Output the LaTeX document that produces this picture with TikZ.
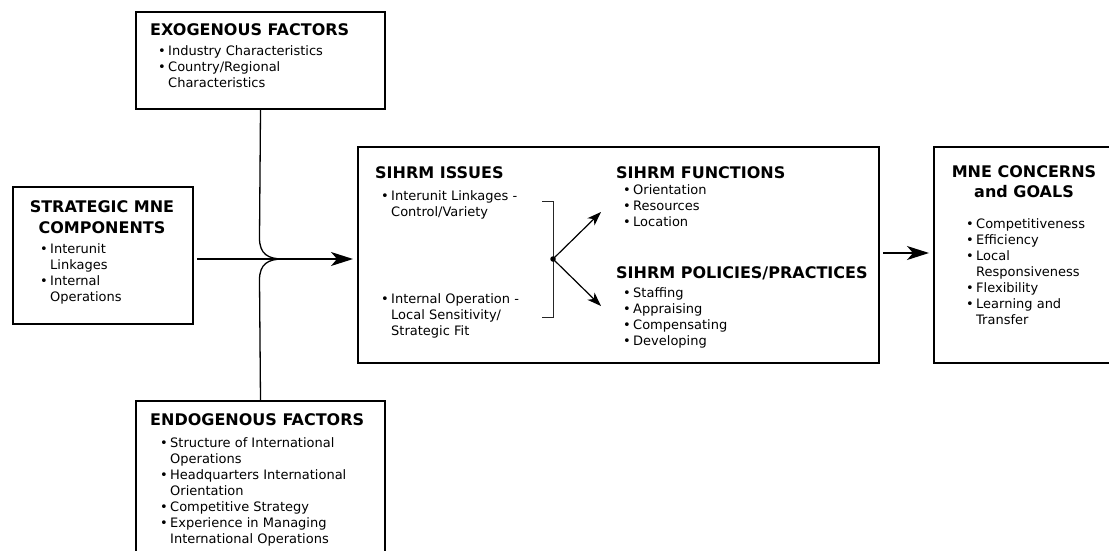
\documentclass[tikz,border=0pt]{standalone}
\usepackage{fontspec}
\setmainfont{DejaVu Sans}
\usetikzlibrary{arrows.meta}
\newcommand\bl{\makebox[10pt][l]{•}}
\newcommand\cn{\hspace*{10pt}}
\tikzset{
  box/.style={draw, line width=2pt, inner sep=0pt, anchor=north west},
  ttl/.style={font=\fontsize{16}{20}\selectfont\bfseries, inner sep=0pt, align=left, anchor=base west},
  ctl/.style={font=\fontsize{16}{20.5}\selectfont\bfseries, inner sep=0pt, align=center, anchor=base},
  itm/.style={font=\fontsize{13}{16}\selectfont, inner sep=0pt, align=left, anchor=base west},
  conn/.style={line width=1.3pt},
  bigarr/.style={line width=1.3pt, -{Stealth[length=22pt,width=14pt,inset=6pt]}},
  smarr/.style={line width=1.2pt, -{Stealth[length=14pt,width=10pt,inset=4pt]}},
  brk/.style={line width=1pt, draw=black!85}
}
\begin{document}
\begin{tikzpicture}[x=1pt,y=-1pt]
\useasboundingbox (0,0) rectangle (1109,550);
\clip (0,0) rectangle (1109,550);
% boxes
\node[box, minimum width=249pt, minimum height=97pt] (exo) at (135,11) {};
\node[box, minimum width=180pt, minimum height=137pt] (strat) at (12,186) {};
\node[box, minimum width=521pt, minimum height=216pt] (center) at (357,146) {};
\node[box, minimum width=200pt, minimum height=216pt] (mne) at (933,146) {};
\node[box, minimum width=249pt, minimum height=180pt] (endo) at (135,400) {};
% exogenous (multi-line nodes are placed by the baseline of their last line)
\node[ttl] (exot) at (150,35) {EXOGENOUS FACTORS};
\node[itm] (exoi) at (158,87) {\bl Industry Characteristics\\\bl Country/Regional\\\cn Characteristics};
% strategic
\node[ctl] (stratt) at (102,233) {STRATEGIC MNE\\COMPONENTS};
\node[itm] (strati) at (40,301) {\bl Interunit\\\cn Linkages\\\bl Internal\\\cn Operations};
% center
\node[ttl] (isst) at (375,178) {SIHRM ISSUES};
\node[itm] (issa) at (381,216) {\bl Interunit Linkages -\\\cn Control/Variety};
\node[itm] (issb) at (381,335) {\bl Internal Operation -\\\cn Local Sensitivity/\\\cn Strategic Fit};
\node[ttl] (funt) at (616,178) {SIHRM FUNCTIONS};
\node[itm] (funi) at (623,226.5) {\bl Orientation\\\bl Resources\\\bl Location};
\node[ttl] (polt) at (616,278) {SIHRM POLICIES/PRACTICES};
\node[itm] (poli) at (623,345) {\bl Staffing\\\bl Appraising\\\bl Compensating\\\bl Developing};
% mne
\node[ctl] (mnet) at (1024,197.5) {MNE CONCERNS\\and GOALS};
\node[itm] (mnei) at (966,324) {\bl Competitiveness\\\bl Efficiency\\\bl Local\\\cn Responsiveness\\\bl Flexibility\\\bl Learning and\\\cn Transfer};
% endogenous
\node[ttl] (endot) at (150,425) {ENDOGENOUS FACTORS};
\node[itm] (endoi) at (160,543) {\bl Structure of International\\\cn Operations\\\bl Headquarters International\\\cn Orientation\\\bl Competitive Strategy\\\bl Experience in Managing\\\cn International Operations};
% junction connectors
\coordinate (J) at (283,259);
\coordinate (s0) at (197,259);
\draw[conn] (exo.south) -- (259.5,238) .. controls (259.5,254) and (268,259) .. (J);
\draw[conn] (J) .. controls (268,259) and (259.5,264) .. (259.5,280) -- (endo.north);
\draw[bigarr, shorten >=4pt] (s0) -- (center.west |- s0);
% center to mne
\coordinate (m0) at (883,253);
\draw[bigarr, shorten >=4pt] (m0) -- (mne.west |- m0);
% bracket
\draw[brk] (542,201) -- (553,201) -- (553,317) -- (542,317);
\node[circle, fill, inner sep=0pt, minimum size=5.5pt] (dot) at (553,259) {};
\coordinate (up) at (601,212);
\coordinate (dn) at (601,306);
\draw[smarr] (dot.center) -- (up);
\draw[smarr] (dot.center) -- (dn);
\end{tikzpicture}
\end{document}
